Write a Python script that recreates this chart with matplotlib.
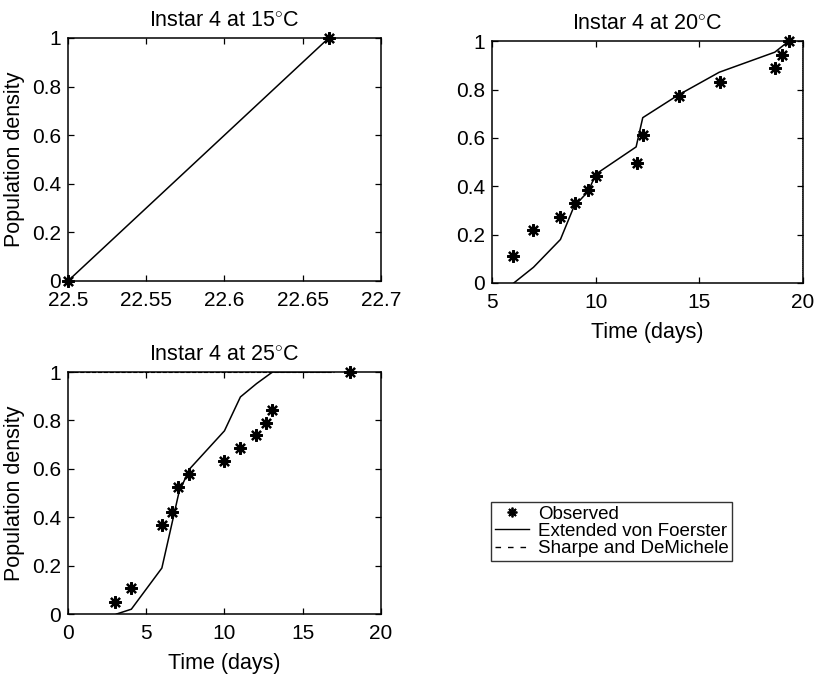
import numpy as np
import matplotlib
matplotlib.use('Agg')
import matplotlib.pyplot as plt
from matplotlib.lines import Line2D

plt.rcParams['font.family'] = ['Liberation Sans', 'DejaVu Sans']
plt.rcParams['mathtext.fontset'] = 'custom'
plt.rcParams['mathtext.rm'] = 'Liberation Sans'

# Instar 4 at 15 C
obs15_t = [22.5, 22.6667]
obs15_p = [0.0, 1.0]
vf15_t = [22.5, 22.6667]
vf15_p = [0.0, 1.0]

# Instar 4 at 20 C
obs20_t = [6.0, 7.0, 8.3, 9.0, 9.65, 10.0, 12.0, 12.3, 14.0, 16.0, 18.65, 19.0, 19.3]
obs20_p = [0.11, 0.22, 0.275, 0.33, 0.385, 0.442, 0.497, 0.611, 0.773, 0.831, 0.889, 0.944, 1.0]
vf20_t = [6.05, 7.0, 8.3, 8.95, 9.65, 10.0, 11.95, 12.27, 13.95, 15.96, 18.64, 19.3]
vf20_p = [0.0, 0.065, 0.18, 0.316, 0.38, 0.45, 0.563, 0.684, 0.776, 0.872, 0.955, 1.0]
sd20_t = [19.95, 19.95]
sd20_p = [0.0, 1.0]

# Instar 4 at 25 C
obs25_t = [3.0, 4.0, 6.0, 6.67, 7.04, 7.72, 10.0, 11.0, 12.0, 12.66, 13.03, 18.0]
obs25_p = [0.051, 0.106, 0.367, 0.422, 0.525, 0.58, 0.633, 0.686, 0.739, 0.79, 0.845, 1.0]
vf25_t = [3.1, 4.05, 6.0, 6.55, 7.1, 7.78, 10.0, 11.02, 12.05, 13.07, 16.7]
vf25_p = [0.0, 0.02, 0.19, 0.347, 0.505, 0.6, 0.757, 0.897, 0.952, 1.0, 1.0]
sd25_t = [0.0, 17.0]
sd25_p = [1.0, 1.0]

star = (8, 2, 0)
mk = dict(marker=star, color='black', linestyle='none', markersize=9, markeredgewidth=1.6)
ln = dict(color='black', linewidth=1.1)
fs = 15.5
yt = [0, 0.2, 0.4, 0.6, 0.8, 1]
ytl = ['0', '0.2', '0.4', '0.6', '0.8', '1']

fig = plt.figure(figsize=(8.15, 6.77), dpi=100)

def style(ax):
    ax.tick_params(direction='in', top=True, right=True, length=4, labelsize=15, width=0.9)
    ax.tick_params(axis='x', pad=7.5)
    ax.tick_params(axis='y', pad=5)
    for s in ax.spines.values():
        s.set_linewidth(1.1)

ax1 = fig.add_axes([0.0834, 0.585, 0.384, 0.359])
ax1.plot(vf15_t, vf15_p, **ln)
ax1.plot(obs15_t, obs15_p, **mk, clip_on=False)
ax1.set_xlim(22.5, 22.7)
ax1.set_ylim(0, 1)
ax1.set_xticks([22.5, 22.55, 22.6, 22.65, 22.7])
ax1.set_xticklabels(['22.5', '22.55', '22.6', '22.65', '22.7'])
ax1.set_yticks(yt)
ax1.set_yticklabels(ytl)
ax1.set_title('Instar 4 at 15$^{\\circ}$C', fontsize=fs, pad=8)
ax1.set_ylabel('Population density', fontsize=fs, labelpad=5)
style(ax1)

ax2 = fig.add_axes([0.6037, 0.582, 0.3816, 0.357])
ax2.plot(vf20_t, vf20_p, **ln)
ax2.plot(sd20_t, sd20_p, color='black', linewidth=0.5, linestyle=(0, (1, 2)))
ax2.plot(obs20_t, obs20_p, **mk, clip_on=False)
ax2.set_xlim(5, 20)
ax2.set_ylim(0, 1)
ax2.set_xticks([5, 10, 15, 20])
ax2.set_yticks(yt)
ax2.set_yticklabels(ytl)
ax2.set_title('Instar 4 at 20$^{\\circ}$C', fontsize=fs, pad=8)
ax2.set_xlabel('Time (days)', fontsize=fs, labelpad=7)
style(ax2)

ax3 = fig.add_axes([0.0834, 0.093, 0.384, 0.3575])
ax3.plot(vf25_t, vf25_p, **ln)
ax3.plot(sd25_t, sd25_p, color='black', linewidth=0.8, linestyle='--')
ax3.plot(obs25_t, obs25_p, **mk, clip_on=False)
ax3.set_xlim(0, 20)
ax3.set_ylim(0, 1)
ax3.set_xticks([0, 5, 10, 15, 20])
ax3.set_yticks(yt)
ax3.set_yticklabels(ytl)
ax3.set_title('Instar 4 at 25$^{\\circ}$C', fontsize=fs, pad=8)
ax3.set_xlabel('Time (days)', fontsize=fs, labelpad=7)
ax3.set_ylabel('Population density', fontsize=fs, labelpad=5)
style(ax3)

handles = [
    Line2D([], [], marker=star, color='black', linestyle='none', markersize=7, markeredgewidth=1.3),
    Line2D([], [], color='black', linewidth=1.0),
    Line2D([], [], color='black', linewidth=1.0, linestyle=(0, (4, 5))),
]
labels = ['Observed', 'Extended von Foerster', 'Sharpe and DeMichele']
leg = fig.legend(handles, labels, loc='upper left', bbox_to_anchor=(0.6025, 0.2585),
                 fontsize=13.5, frameon=True, fancybox=False, edgecolor='black',
                 borderaxespad=0, borderpad=0.2, labelspacing=0.0, handlelength=1.8,
                 handletextpad=0.5)
leg.get_frame().set_linewidth(1.0)

fig.savefig('out.png', dpi=100)
